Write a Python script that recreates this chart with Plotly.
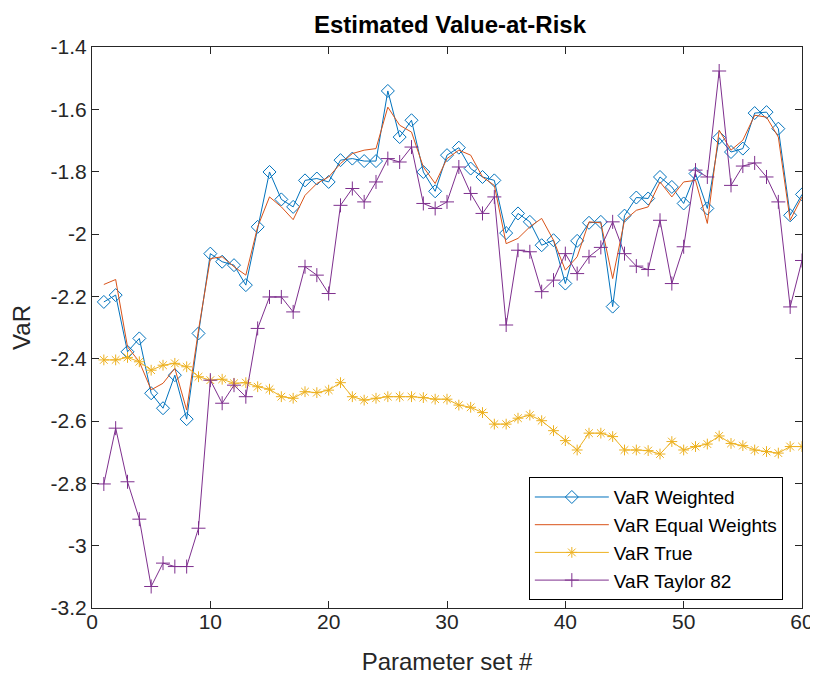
import plotly.graph_objects as go

param_set = list(range(1, 61))

var_weighted = [
    -2.218, -2.196, -2.378, -2.335, -2.511, -2.559, -2.453, -2.594, -2.319, -2.063,
    -2.089, -2.100, -2.164, -1.977, -1.801, -1.889, -1.913, -1.828, -1.822, -1.833,
    -1.763, -1.758, -1.766, -1.766, -1.541, -1.689, -1.635, -1.801, -1.863, -1.747,
    -1.723, -1.790, -1.817, -1.828, -1.997, -1.934, -1.961, -2.036, -2.020, -2.159,
    -2.022, -1.964, -1.961, -2.233, -1.941, -1.883, -1.886, -1.817, -1.849, -1.902,
    -1.806, -1.918, -1.691, -1.737, -1.726, -1.612, -1.609, -1.662, -1.940, -1.873,
]

var_equal = [
    -2.162, -2.146, -2.362, -2.410, -2.500, -2.479, -2.431, -2.565, -2.308, -2.079,
    -2.073, -2.105, -2.132, -1.977, -1.881, -1.913, -1.954, -1.876, -1.838, -1.817,
    -1.774, -1.742, -1.731, -1.726, -1.593, -1.651, -1.673, -1.785, -1.838, -1.758,
    -1.731, -1.747, -1.817, -1.844, -2.031, -2.014, -1.977, -1.950, -2.020, -2.116,
    -2.073, -1.961, -1.964, -2.143, -1.956, -1.924, -1.913, -1.833, -1.881, -1.833,
    -1.828, -1.966, -1.667, -1.731, -1.699, -1.619, -1.625, -1.689, -1.956, -1.881,
]

var_true = [
    -2.404, -2.404, -2.396, -2.410, -2.437, -2.421, -2.415, -2.426, -2.458, -2.469,
    -2.466, -2.479, -2.477, -2.490, -2.498, -2.522, -2.527, -2.506, -2.509, -2.501,
    -2.477, -2.522, -2.533, -2.527, -2.522, -2.522, -2.522, -2.525, -2.530, -2.530,
    -2.549, -2.556, -2.573, -2.610, -2.610, -2.591, -2.581, -2.599, -2.631, -2.663,
    -2.693, -2.639, -2.639, -2.650, -2.693, -2.693, -2.695, -2.706, -2.666, -2.693,
    -2.682, -2.674, -2.648, -2.672, -2.679, -2.693, -2.698, -2.703, -2.682, -2.682,
]

var_taylor = [
    -2.802, -2.623, -2.795, -2.915, -3.131, -3.056, -3.067, -3.067, -2.944, -2.469,
    -2.543, -2.485, -2.522, -2.303, -2.202, -2.202, -2.250, -2.105, -2.132, -2.191,
    -1.908, -1.854, -1.897, -1.833, -1.758, -1.769, -1.721, -1.902, -1.918, -1.897,
    -1.785, -1.870, -1.934, -1.881, -2.292, -2.052, -2.057, -2.185, -2.148, -2.063,
    -2.127, -2.073, -2.043, -1.961, -2.063, -2.103, -2.114, -1.956, -2.159, -2.041,
    -1.795, -1.817, -1.477, -1.844, -1.782, -1.772, -1.817, -1.897, -2.234, -2.085,
]

x_ticks = [0, 10, 20, 30, 40, 50, 60]
y_ticks = [-3.2, -3.0, -2.8, -2.6, -2.4, -2.2, -2.0, -1.8, -1.6, -1.4]
y_tick_labels = ["-3.2", "-3", "-2.8", "-2.6", "-2.4", "-2.2", "-2", "-1.8", "-1.6", "-1.4"]

FONT = "Arial, Liberation Sans, Helvetica, sans-serif"
AX = "#262626"

fig = go.Figure()
fig.add_trace(go.Scatter(
    x=param_set, y=var_weighted, name="VaR Weighted", mode="lines+markers",
    line=dict(color="#0072BD", width=1),
    marker=dict(symbol="diamond-open", size=10, color="#0072BD", line=dict(width=1, color="#0072BD")),
))
fig.add_trace(go.Scatter(
    x=param_set, y=var_equal, name="VaR Equal Weights", mode="lines",
    line=dict(color="#D95319", width=1),
))
fig.add_trace(go.Scatter(
    x=param_set, y=var_true, name="VaR True", mode="lines+markers",
    line=dict(color="#EDB120", width=1),
    marker=dict(symbol="asterisk-open", size=9, color="#EDB120", line=dict(width=1, color="#EDB120")),
))
fig.add_trace(go.Scatter(
    x=param_set, y=var_taylor, name="VaR Taylor 82", mode="lines+markers",
    line=dict(color="#7E2F8E", width=1),
    marker=dict(symbol="cross-thin-open", size=10, color="#7E2F8E", line=dict(width=1, color="#7E2F8E")),
))

# page body adds an 8px offset, so the figure is 8px smaller on each axis
fig.update_layout(
    width=810, height=667,
    paper_bgcolor="white", plot_bgcolor="white",
    margin=dict(l=84, r=16, t=39, b=67, autoexpand=False),
    font=dict(family=FONT, color=AX, size=21),
    title=dict(text="<b>Estimated Value-at-Risk</b>", x=0.5457, xanchor="center",
               y=0.9745, yanchor="middle", font=dict(size=24, color="black")),
    showlegend=True,
    legend=dict(x=0.973, xanchor="right", y=0.014, yanchor="bottom",
                bgcolor="white", bordercolor="black", borderwidth=1,
                font=dict(size=19, color="black"), itemwidth=74, tracegroupgap=0),
    xaxis=dict(range=[0, 60], tickvals=x_ticks, ticks="inside", ticklen=7, tickcolor=AX,
               showline=True, linecolor=AX, linewidth=1, mirror="ticks", showgrid=False,
               zeroline=False, tickfont=dict(size=21, color=AX), ticklabelstandoff=-5,
               title=dict(text="Parameter set #", font=dict(size=24, color=AX), standoff=20)),
    yaxis=dict(range=[-3.2, -1.4], tickvals=y_ticks, ticktext=y_tick_labels, ticks="inside",
               ticklen=7, tickcolor=AX, showline=True, linecolor=AX, linewidth=1, mirror="ticks",
               showgrid=False, zeroline=False, tickfont=dict(size=21, color=AX),
               title=dict(text="VaR", font=dict(size=24, color=AX), standoff=13)),
)

fig.write_html("out.html")
